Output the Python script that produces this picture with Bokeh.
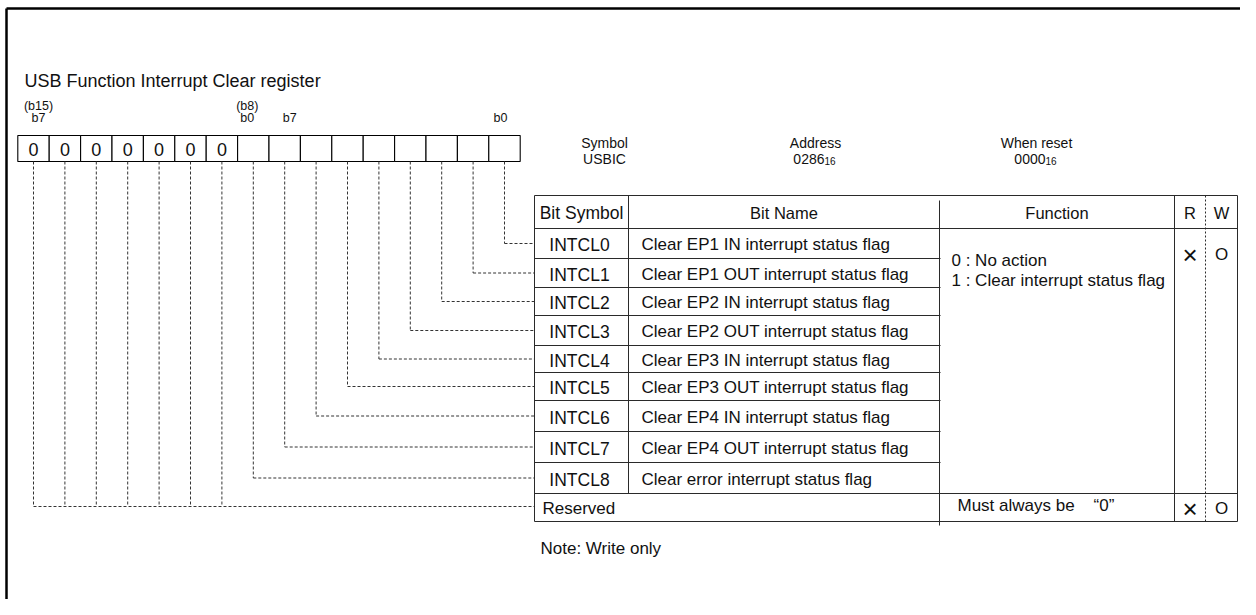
from bokeh.plotting import figure
from bokeh.models import Range1d, ColumnDataSource
from bokeh.core.properties import value
from bokeh.embed import file_html
from bokeh.resources import INLINE

# ---------------- content ----------------
title_text = "USB Function Interrupt Clear register"
bit_labels = ["b15", "b14", "b13", "b12", "b11", "b10", "b9", "b8",
              "b7", "b6", "b5", "b4", "b3", "b2", "b1", "b0"]
fixed_values = ["0", "0", "0", "0", "0", "0", "0", "", "", "", "", "", "", "", "", ""]
header_marks = [("(b15)", "b7"), ("(b8)", "b0"), ("", "b7"), ("", "b0")]
header_mark_bits = [15, 8, 7, 0]
info_titles = ["Symbol", "Address", "When reset"]
info_values = ["USBIC", "0286", "0000"]
info_subs = ["", "16", "16"]
col_headers = ["Bit Symbol", "Bit Name", "Function", "R", "W"]
bit_symbols = ["INTCL0", "INTCL1", "INTCL2", "INTCL3", "INTCL4",
               "INTCL5", "INTCL6", "INTCL7", "INTCL8"]
bit_names = ["Clear EP1 IN interrupt status flag",
             "Clear EP1 OUT interrupt status flag",
             "Clear EP2 IN interrupt status flag",
             "Clear EP2 OUT interrupt status flag",
             "Clear EP3 IN interrupt status flag",
             "Clear EP3 OUT interrupt status flag",
             "Clear EP4 IN interrupt status flag",
             "Clear EP4 OUT interrupt status flag",
             "Clear error interrupt status flag"]
function_lines = ["0 : No action", "1 : Clear interrupt status flag"]
reserved_label = "Reserved"
reserved_bits = [15, 14, 13, 12, 11, 10, 9]
reserved_function = "Must always be\u00a0\u00a0\u00a0\u00a0\u201c0\u201d"
read_marks = ["\u00d7", "\u00d7"]     # bits INTCL0-8, reserved
write_marks = ["O", "O"]
note_text = "Note: Write only"

# ---------------- layout (pixel units of the picture) ----------------
W, H = 1240, 599
FONT = value("Liberation Sans")
INK = "#111111"
LINE = "#2a2a2a"

box_left, cell_w = 17.3, 31.4
box_top, box_bot = 135, 161
tbl_l, c1, c2, c3, c4, tbl_r = 534, 628, 939, 1174, 1205, 1237
tbl_top = 195
row_bounds = [228, 258, 287, 315, 345, 372, 400, 431, 462, 493, 521]
row_mid = [(row_bounds[i] + row_bounds[i + 1]) / 2 for i in range(len(row_bounds) - 1)]
tbl_bot = row_bounds[-1]

p = figure(width=W, height=H, output_backend="svg", toolbar_location=None,
           x_range=Range1d(0, W), y_range=Range1d(H, 0),
           min_border=0, outline_line_color=None)
p.axis.visible = False
p.grid.visible = False
p.background_fill_color = "white"
p.border_fill_color = "white"


def seg(x0, y0, x1, y1, color=LINE, width=1.0, dash="solid"):
    p.segment(x0=x0, y0=y0, x1=x1, y1=y1, line_color=color, line_width=width, line_dash=dash)


def txt(xs, ys, texts, size, align="left", baseline="middle", color=INK):
    src = ColumnDataSource(dict(x=list(xs), y=list(ys), t=list(texts)))
    p.text(x="x", y="y", text="t", source=src, text_font=FONT, text_font_size=size,
           text_align=align, text_baseline=baseline, text_color=color)


# outer page frame
seg([6], [8], [W], [8], color="#000000", width=2.5)
seg([6], [8], [6], [H], color="#000000", width=2.5)

# title
txt([24], [80], [title_text], "18px")

# register box
n_bits = len(bit_labels)
cell_x0 = [box_left + i * cell_w for i in range(n_bits)]
cell_cx = [x + cell_w / 2 for x in cell_x0]
p.quad(left=cell_x0, right=[x + cell_w for x in cell_x0], top=[box_top] * n_bits,
       bottom=[box_bot] * n_bits, fill_color="white", line_color="#000000", line_width=1.1)
txt(cell_cx, [(box_top + box_bot) / 2 + 1] * n_bits, fixed_values, "18px", align="center")


def cell_of(bit):
    return bit_labels.index("b%d" % bit)


mark_dx = [5, -6, 5, -4]
for (upper, lower), bit, dx in zip(header_marks, header_mark_bits, mark_dx):
    cx = cell_cx[cell_of(bit)] + dx
    if upper:
        txt([cx], [105], [upper], "12.5px", align="center")
    txt([cx], [117], [lower], "12.5px", align="center")

# symbol / address / reset
info_x = [604, 815, 1036]
txt(info_x, [142] * 3, info_titles, "14px", align="center")
for x, v, s in zip(info_x, info_values, info_subs):
    if s:
        txt([x + 9], [158], [v], "14px", align="right")
        txt([x + 9], [160], [s], "10px", align="left")
    else:
        txt([x], [158], [v], "14px", align="center")

# leader lines (dashed)
DASH = "3 2"
for n, sym in enumerate(bit_symbols):
    x = cell_cx[cell_of(n)]
    y = row_mid[n]
    seg([x], [box_bot], [x], [y], color="#333333", width=1, dash=DASH)
    seg([x], [y], [tbl_l], [y], color="#333333", width=1, dash=DASH)
y_res = row_mid[-1] - 1
res_x = [cell_cx[cell_of(b)] for b in reserved_bits]
seg(res_x, [box_bot] * len(res_x), res_x, [y_res] * len(res_x), color="#333333", width=1, dash=DASH)
seg([min(res_x)], [y_res], [tbl_l], [y_res], color="#333333", width=1, dash=DASH)

# table frame
seg([tbl_l], [tbl_top], [tbl_r], [tbl_top])
seg([tbl_l], [row_bounds[0]], [tbl_r], [row_bounds[0]])
seg([tbl_l], [row_bounds[-2]], [tbl_r], [row_bounds[-2]])
seg([tbl_l], [tbl_bot], [tbl_r], [tbl_bot])
inner = row_bounds[1:-2]
seg([tbl_l] * len(inner), inner, [c2 + 1] * len(inner), inner)
seg([tbl_l], [tbl_top], [tbl_l], [tbl_bot])
seg([c1], [tbl_top], [c1], [row_bounds[-2]])
seg([c2], [tbl_top + 5], [c2], [tbl_bot + 4])
seg([c3], [tbl_top], [c3], [tbl_bot])
seg([tbl_r], [tbl_top], [tbl_r], [tbl_bot])
seg([c4], [tbl_top], [c4], [tbl_bot], dash="2 2")

# headers
hy = (tbl_top + row_bounds[0]) / 2 + 1
txt([(tbl_l + c1) / 2], [hy], [col_headers[0]], "17.5px", align="center")
txt([(c1 + c2) / 2, (c2 + c3) / 2, (c3 + c4) / 2, (c4 + tbl_r) / 2],
    [hy] * 4, col_headers[1:], "16.5px", align="center")

# rows
txt([(tbl_l + c1) / 2 - 2] * len(bit_symbols), [y + 1.5 for y in row_mid[:-1]], bit_symbols,
    "17.5px", align="center")
txt([641] * len(bit_names), [y + 1 for y in row_mid[:-1]], bit_names, "17px")
txt([951, 951], [260, 280], function_lines, "17px")
rw_y = [254, row_mid[-1] + 1]
txt([(c3 + c4) / 2] * 2, rw_y, read_marks, "26px", align="center")
txt([(c4 + tbl_r) / 2] * 2, rw_y, write_marks, "17px", align="center")
txt([542], [row_mid[-1] + 1], [reserved_label], "17px")
txt([957], [row_mid[-1] - 2], [reserved_function], "17px")

# note
txt([540], [548], [note_text], "17px")

open("out.html", "w").write(file_html(p, INLINE))
